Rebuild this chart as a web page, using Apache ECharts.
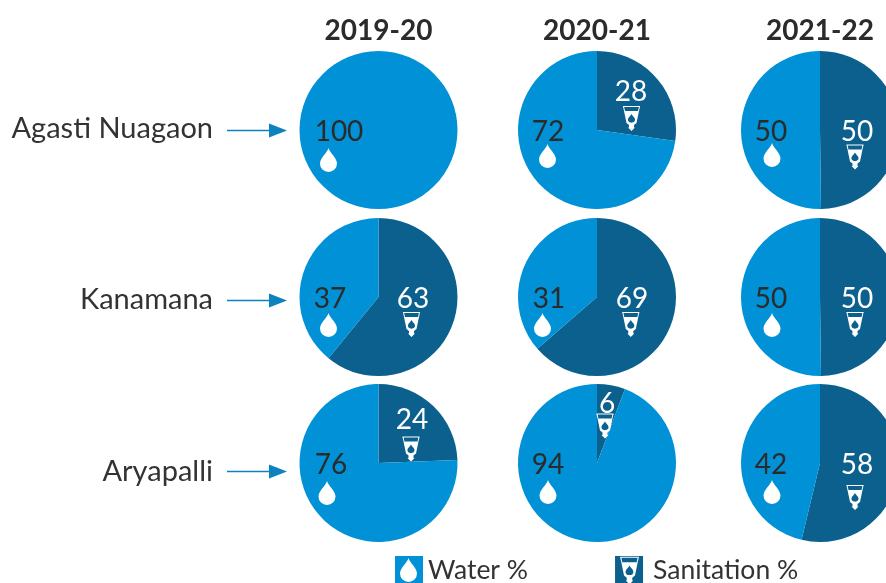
<!DOCTYPE html>
<html>
<head>
<meta charset="utf-8">
<script src="https://cdn.jsdelivr.net/npm/echarts@6/dist/echarts.min.js"></script>
<style>
html, body { margin: 0; padding: 0; background: #fff; }
#main { width: 886px; height: 583px; }
</style>
</head>
<body>
<div id="main"></div>
<script>
var years = ['2019-20', '2020-21', '2021-22'];
var villages = ['Agasti Nuagaon', 'Kanamana', 'Aryapalli'];
// 图上印的数字
var waterLabel = [[100, 72, 50], [37, 31, 50], [76, 94, 42]];
var sanitationLabel = [[0, 28, 50], [63, 69, 50], [24, 6, 58]];
// 图上实际画的扇形大小(和印的数字不完全一致,按图读取)
var waterSlice = [[100, 72.8, 50.2], [39.1, 36.4, 50.2], [75.6, 94.25, 46.25]];
var sanitationSlice = [[0, 27.2, 49.8], [60.9, 63.6, 49.8], [24.4, 5.75, 53.75]];

// 版式
var fontName = 'Lato';
var colX = [378.5, 597, 820];
var rowY = [130, 297, 463];
var nameY = [129, 300, 472];
var arrowY = [130.5, 300.5, 471.5];
var radius = 79;
var waterColor = '#0091d6';
var sanitationColor = '#0b608e';
var darkText = '#2b2b2b';
var arrowColor = '#0e82bd';

// 标签位置
var waterLabelPos = [
    [[339, 130], [548, 130], [771, 130]],
    [[330, 297], [549, 297], [771, 297]],
    [[331, 463], [548, 463], [771, 463]]
];
var sanitationLabelPos = [
    [null, [631, 90], [857, 130]],
    [[413, 297], [632, 297], [857, 297]],
    [[412, 418], [607, 402], [857, 463]]
];
var waterIconPos = [
    [[328.5, 160], [547.5, 156], [772, 155]],
    [[328.5, 325], [542.5, 325], [772, 325]],
    [[327, 493], [548, 492], [772, 492]]
];
var sanitationIconPos = [
    [null, [631.5, 118.5], [855, 157]],
    [[411.5, 324.5], [630.8, 324.5], [855, 324.5]],
    [[411, 449], [605, 426], [855, 497.5]]
];

// 自定义图标形状
var dropPath = 'M8.5 0C10 5 17 10 17 15.5A8.5 8.5 0 0 1 0 15.5C0 10 7 5 8.5 0Z';
echarts.graphic.registerShape('dropShape', echarts.graphic.extendPath(dropPath, {}));
echarts.graphic.registerShape('cupBody', echarts.graphic.extendPath('M1.5 5H16.5L14 17L11.5 19V21.5H12.5L9 25L5.5 21.5H6.5V19L4 17Z', {}));
echarts.graphic.registerShape('cupRim', echarts.graphic.extendPath('M0.5 0.5H17.5M1 0.5L2 5M17 0.5L16 5', {}));

// 水滴图标
function dropIcon(cx, cy) {
    return {
        type: 'dropShape',
        z: 10,
        x: cx - 8.5,
        y: cy - 12,
        style: { fill: '#fff' }
    };
}

// 卫生图标
function cupIcon(cx, cy, scale) {
    return {
        type: 'group',
        x: cx - 9 * scale,
        y: cy - 12.5 * scale,
        scaleX: scale,
        scaleY: scale,
        children: [
            { type: 'cupRim', z: 10, style: { fill: 'none', stroke: '#fff', lineWidth: 1 } },
            { type: 'cupBody', z: 10, style: { fill: '#fff' } },
            { type: 'dropShape', z: 11, x: 5.4, y: 8, scaleX: 0.42, scaleY: 0.36, style: { fill: sanitationColor } }
        ]
    };
}

var series = [];
var graphics = [];
var titles = [];

years.forEach(function (year, c) {
    titles.push({
        text: year,
        left: colX[c] - 5,
        top: 12,
        textAlign: 'center',
        textStyle: { fontFamily: fontName, fontSize: 28, fontWeight: 'bold', color: darkText }
    });
});

villages.forEach(function (name, r) {
    years.forEach(function (year, c) {
        var san = sanitationSlice[r][c];
        series.push({
            type: 'pie',
            radius: radius,
            center: [colX[c], rowY[r]],
            startAngle: 90,
            clockwise: true,
            silent: true,
            animation: false,
            labelLine: { show: false },
            label: {
                position: 'inside',
                fontFamily: fontName,
                fontSize: 28,
                formatter: function (params) {
                    return params.dataIndex === 0 ? sanitationLabel[r][c] : waterLabel[r][c];
                }
            },
            labelLayout: function (params) {
                var p = params.dataIndex === 0 ? sanitationLabelPos[r][c] : waterLabelPos[r][c];
                if (!p) { return {}; }
                return { x: p[0], y: p[1] + 1.5, align: 'center', verticalAlign: 'middle' };
            },
            data: [
                {
                    name: 'Sanitation %',
                    value: san,
                    itemStyle: { color: sanitationColor },
                    label: { show: san > 0, color: '#fff' }
                },
                {
                    name: 'Water %',
                    value: waterSlice[r][c],
                    itemStyle: { color: waterColor },
                    label: { color: darkText }
                }
            ]
        });
        var wp = waterIconPos[r][c];
        graphics.push(dropIcon(wp[0], wp[1]));
        if (sanitationIconPos[r][c]) {
            var sp = sanitationIconPos[r][c];
            graphics.push(cupIcon(sp[0], sp[1], 1));
        }
    });

    // 行标题和箭头
    graphics.push({
        type: 'text',
        x: 213,
        y: nameY[r],
        style: {
            text: name,
            fill: '#333',
            font: '29px ' + fontName,
            textAlign: 'right',
            textVerticalAlign: 'middle'
        }
    });
    graphics.push({
        type: 'line',
        shape: { x1: 227, y1: arrowY[r], x2: 276, y2: arrowY[r] },
        style: { stroke: arrowColor, lineWidth: 1.5 }
    });
    graphics.push({
        type: 'polygon',
        shape: { points: [[269, arrowY[r] - 7], [287, arrowY[r]], [269, arrowY[r] + 7]] },
        style: { fill: arrowColor }
    });
});

// 图例上的图标
graphics.push(dropIcon(408.5, 570));
graphics.push(cupIcon(629.5, 570.5, 1.1));

var chart = echarts.init(document.getElementById('main'), null, { renderer: 'canvas' });
chart.setOption({
    backgroundColor: '#fff',
    animation: false,
    title: titles,
    legend: {
        left: 395,
        top: 556,
        padding: 0,
        itemWidth: 28,
        itemHeight: 28,
        itemGap: 87,
        icon: 'rect',
        selectedMode: false,
        textStyle: { fontFamily: fontName, fontSize: 26.5, color: '#333', padding: [14, 0, 0, 0] },
        data: [
            { name: 'Water %' },
            { name: 'Sanitation %', textStyle: { padding: [14, 0, 0, 5] } }
        ]
    },
    series: series,
    graphic: { elements: graphics }
});
</script>
</body>
</html>
